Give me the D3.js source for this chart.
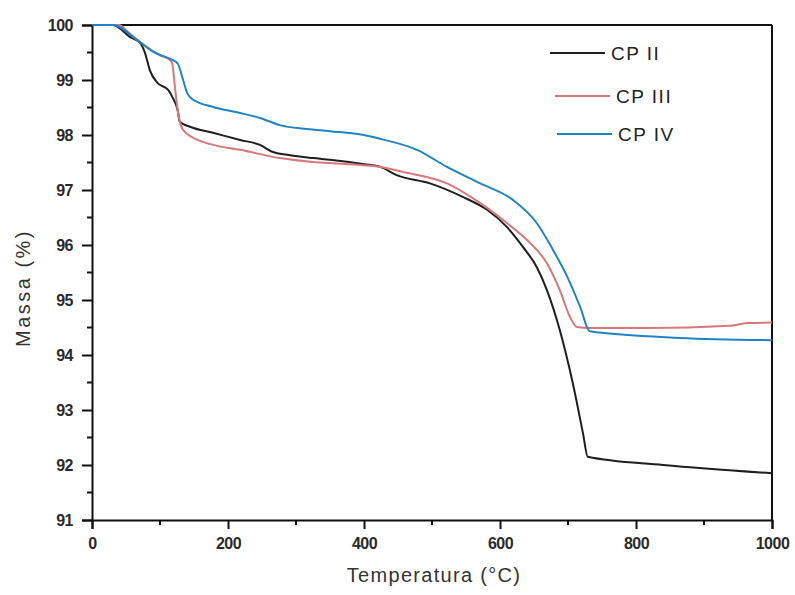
<!DOCTYPE html>
<html><head><meta charset="utf-8">
<script src="https://cdn.jsdelivr.net/npm/d3@7"></script>
<style>body{margin:0;background:#fff;} text{font-family:"Liberation Sans",Arial,sans-serif;}</style>
</head><body><svg id="c" width="795" height="595"></svg>
<script>
const seriesNames = ["CP II", "CP III", "CP IV"];
const seriesColors = ["#1e1e1e", "#d7777a", "#1f84c6"];
const xTicks = [0, 200, 400, 600, 800, 1000];
const yTicks = [91, 92, 93, 94, 95, 96, 97, 98, 99, 100];

const cp2T = [0, 31, 56, 71, 78, 85, 96, 112, 119, 126, 129, 144, 178, 218, 247, 266, 287, 325, 350, 400, 424, 448, 497, 546, 581, 610, 634, 654, 669, 688, 707, 722, 729, 840, 1000];
const cp2M = [100, 100, 99.78, 99.67, 99.49, 99.18, 98.95, 98.82, 98.67, 98.45, 98.24, 98.15, 98.04, 97.91, 97.82, 97.69, 97.64, 97.58, 97.55, 97.47, 97.42, 97.27, 97.12, 96.87, 96.64, 96.33, 95.96, 95.6, 95.18, 94.45, 93.49, 92.58, 92.15, 92.0, 91.85];

const cp3T = [0, 40, 53, 81, 100, 115, 118, 122, 126, 134, 149, 178, 218, 276, 325, 350, 400, 424, 457, 522, 571, 610, 644, 669, 688, 703, 713, 732, 816, 938, 963, 1000];
const cp3M = [100, 100, 99.87, 99.6, 99.45, 99.36, 99.3, 98.87, 98.45, 98.09, 97.95, 97.82, 97.73, 97.58, 97.51, 97.49, 97.45, 97.42, 97.33, 97.12, 96.76, 96.4, 96.04, 95.67, 95.18, 94.69, 94.51, 94.49, 94.49, 94.53, 94.58, 94.59];

const cp4T = [0, 31, 66, 90, 119, 126, 134, 140, 149, 178, 218, 247, 276, 316, 350, 400, 424, 478, 522, 571, 619, 654, 678, 699, 718, 732, 865, 1000];
const cp4M = [100, 100, 99.73, 99.51, 99.36, 99.3, 99.0, 98.76, 98.64, 98.51, 98.4, 98.31, 98.18, 98.11, 98.07, 98.0, 97.93, 97.73, 97.42, 97.12, 96.82, 96.4, 95.91, 95.42, 94.87, 94.43, 94.31, 94.27];

const seriesT = [cp2T, cp3T, cp4T];
const seriesM = [cp2M, cp3M, cp4M];

const svg = d3.select("#c");
const L = 92, R = 772, T = 25, B = 520;
const x = d3.scaleLinear().domain([0, 1000]).range([L, R]);
const y = d3.scaleLinear().domain([91, 100]).range([B, T]);

// minor ticks
const xMinor = d3.range(100, 1000, 200);
const yMinor = d3.range(91.5, 100, 1);
svg.append("g").selectAll("line").data(xMinor).join("line")
  .attr("x1", d => x(d)).attr("x2", d => x(d)).attr("y1", B).attr("y2", B + 5)
  .attr("stroke", "#111").attr("stroke-width", 2);
svg.append("g").selectAll("line").data(yMinor).join("line")
  .attr("y1", d => y(d)).attr("y2", d => y(d)).attr("x1", L).attr("x2", L - 5)
  .attr("stroke", "#111").attr("stroke-width", 2);

const xAxis = svg.append("g").attr("transform", `translate(0,${B})`)
  .call(d3.axisBottom(x).tickValues(xTicks).tickSize(9).tickPadding(6).tickFormat(d3.format("d")));
const yAxis = svg.append("g").attr("transform", `translate(${L},0)`)
  .call(d3.axisLeft(y).tickValues(yTicks).tickSize(10).tickPadding(9).tickFormat(d3.format("d")));
[xAxis, yAxis].forEach(g => {
  g.select(".domain").attr("stroke", "#111").attr("stroke-width", 2);
  g.selectAll(".tick line").attr("stroke", "#111").attr("stroke-width", 2);
  g.selectAll(".tick text").attr("fill", "#2a2a2a").attr("font-size", 16).attr("font-weight", "bold")
    .attr("letter-spacing", "-0.5px")
    .attr("font-family", "'Liberation Sans',Arial,sans-serif");
});
xAxis.selectAll(".tick text").attr("dy", "0.85em");

// frame top/right
svg.append("line").attr("x1", L).attr("x2", R).attr("y1", T).attr("y2", T).attr("stroke", "#111").attr("stroke-width", 2);
svg.append("line").attr("x1", R).attr("x2", R).attr("y1", T).attr("y2", B).attr("stroke", "#111").attr("stroke-width", 2);

const line = d3.line().x(d => x(d[0])).y(d => y(d[1])).curve(d3.curveMonotoneX);
seriesNames.forEach((n, i) => {
  const pts = seriesT[i].map((t, j) => [t, seriesM[i][j]]);
  svg.append("path").datum(pts).attr("d", line).attr("fill", "none")
    .attr("stroke", seriesColors[i]).attr("stroke-width", 2);
});

// legend
const legX = [550, 555, 557], legY = [53, 96, 134];
seriesNames.forEach((n, i) => {
  svg.append("line").attr("x1", legX[i]).attr("x2", legX[i] + 55).attr("y1", legY[i]).attr("y2", legY[i])
    .attr("stroke", seriesColors[i]).attr("stroke-width", 2);
  svg.append("text").attr("x", legX[i] + 61).attr("y", legY[i] + 7).attr("font-size", 19)
    .attr("letter-spacing", "1.5px").attr("fill", "#222").text(n);
});

svg.append("text").attr("x", 434).attr("y", 582).attr("text-anchor", "middle")
  .attr("font-size", 20).attr("letter-spacing", "1.3px").attr("fill", "#333").text("Temperatura (°C)");
svg.append("text").attr("transform", `translate(30,288) rotate(-90)`).attr("text-anchor", "middle")
  .attr("font-size", 20).attr("letter-spacing", "2.5px").attr("fill", "#333").text("Massa (%)");
</script></body></html>
